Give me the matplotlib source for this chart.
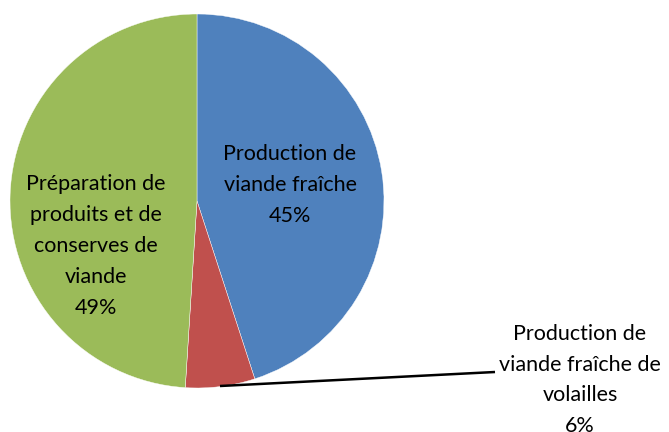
import matplotlib
matplotlib.use("Agg")
import matplotlib.pyplot as plt

plt.rcParams["font.family"] = ["Lato", "DejaVu Sans"]

categories = ["Production de\nviande fraîche",
              "Production de\nviande fraîche de\nvolailles",
              "Préparation de\nproduits et de\nconserves de\nviande"]
shares = [45, 6, 49]
slice_colors = ["#4F81BD", "#C0504D", "#9BBB59"]

fig = plt.figure(figsize=(6.69, 4.32), dpi=100)
ax = fig.add_axes([0, 0, 1, 1])

cx, cy, r = 197, 231, 187
ax.pie(shares, colors=slice_colors, startangle=90,
       counterclock=False, center=(cx, cy), radius=r,
       wedgeprops=dict(edgecolor="white", linewidth=0.3),
       frame=True)
ax.set_xlim(0, 669)
ax.set_ylim(0, 432)
ax.set_aspect("equal")
ax.axis("off")

fs = 15.5
ls = 1.68
ax.text(290, 247, f"{categories[0]}\n{shares[0]}%", ha="center",
        va="center", fontsize=fs, linespacing=ls)
ax.text(96, 186, f"{categories[2]}\n{shares[2]}%", ha="center",
        va="center", fontsize=fs, linespacing=ls)
ax.text(580, 52, f"{categories[1]}\n{shares[1]}%", ha="center",
        va="center", fontsize=fs, linespacing=ls, clip_on=False)

# leader line for the small slice
ax.plot([220, 495], [46, 60], color="black", lw=1.8,
        solid_capstyle="butt")

fig.savefig("out.png", dpi=100)
